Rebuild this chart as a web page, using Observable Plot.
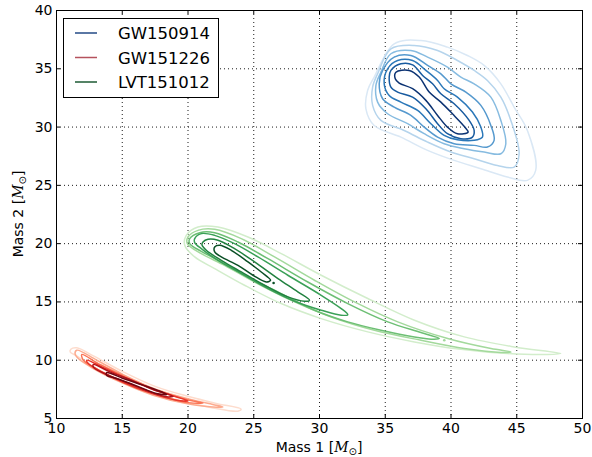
<!DOCTYPE html>
<html><head><meta charset="utf-8">
<script src="https://cdn.jsdelivr.net/npm/d3@7"></script>
<script src="https://cdn.jsdelivr.net/npm/@observablehq/plot@0.6"></script>
<style>
body{margin:0;background:#fff;}
#chart{position:relative;width:592px;height:457px;}
</style>
</head><body><div id="chart"></div>
<script>
// ---- data ----
const xTicks = [10, 15, 20, 25, 30, 35, 40, 45, 50];
const yTicks = [5, 10, 15, 20, 25, 30, 35, 40];
const seriesNames = ["GW150914", "GW151226", "LVT151012"];

// GW150914 contour levels (innermost first), [mass1, mass2]
const gw150914Levels = [
  [[35.81,34.71],[36.82,34.86],[37.58,34.29],[38.34,33.0],[39.23,32.14],[40.11,31.14],[41.05,30.0],[41.30,29.57],[40.49,29.43],[39.73,30.0],[38.98,31.0],[38.09,32.29],[37.08,33.29],[36.06,33.77],[35.76,34.14]],
  [[35.43,34.86],[36.19,35.43],[37.08,35.34],[37.84,34.43],[38.60,33.71],[39.23,32.86],[40.24,32.0],[41.38,30.57],[41.76,29.71],[41.63,29.14],[40.75,29.0],[39.73,29.43],[38.98,30.29],[38.09,31.57],[37.08,32.57],[35.94,33.0],[35.43,33.43],[35.30,34.29]],
  [[35.18,35.0],[35.94,35.71],[37.08,35.71],[38.09,34.86],[38.98,34.0],[39.48,33.29],[40.49,32.57],[41.63,31.29],[42.27,30.0],[42.39,29.14],[41.76,28.86],[40.49,28.91],[39.48,29.29],[38.47,30.29],[37.46,31.43],[36.19,32.14],[35.30,32.71],[34.92,33.71]],
  [[34.80,34.86],[35.68,36.0],[36.95,36.14],[38.22,35.29],[39.23,34.57],[39.99,33.71],[41.13,33.0],[42.27,31.86],[43.03,30.14],[43.28,28.86],[42.77,28.29],[41.76,28.43],[40.24,28.57],[38.98,29.14],[37.96,30.0],[36.95,31.0],[35.68,31.71],[34.80,32.43],[34.54,33.71]],
  [[34.67,34.71],[35.43,36.29],[36.95,36.57],[38.22,36.0],[39.73,35.14],[40.75,34.29],[41.76,33.71],[43.03,32.57],[43.79,30.57],[44.17,28.57],[43.79,27.71],[42.52,27.86],[41.00,28.14],[39.48,28.57],[37.96,29.43],[36.70,30.29],[35.18,31.14],[34.42,32.14],[34.29,33.57]],
  [[34.42,34.57],[35.43,36.71],[37.20,37.0],[38.98,36.57],[40.49,35.71],[41.76,34.86],[42.77,34.0],[43.79,32.57],[44.55,30.57],[45.18,27.71],[44.80,26.57],[43.53,26.71],[41.76,27.29],[39.99,27.86],[38.22,28.71],[36.44,29.71],[34.67,30.57],[34.04,31.86],[34.04,33.43]],
  [[34.16,34.29],[35.68,37.14],[37.71,37.43],[39.73,36.86],[41.25,36.14],[42.52,35.29],[43.79,33.71],[44.80,31.71],[45.81,29.71],[46.44,26.29],[45.81,25.43],[44.29,25.71],[42.27,26.43],[40.24,27.14],[38.22,28.0],[36.19,29.14],[34.16,30.14],[33.53,31.57],[33.66,33.14]]
];

// GW151226 contour levels (innermost first)
const gw151226Levels = [
  [[13.81,8.94],[15.08,8.43],[16.59,7.86],[18.10,7.23],[18.36,7.06],[17.60,7.14],[16.09,7.80],[14.57,8.43],[13.81,8.71]],
  [[12.80,9.63],[14.07,9.0],[15.58,8.34],[17.35,7.49],[18.86,6.91],[18.36,6.86],[17.10,7.29],[15.33,8.09],[13.81,8.77],[12.85,9.34]],
  [[12.30,10.0],[13.56,9.37],[15.08,8.57],[17.35,7.49],[19.37,6.77],[20.0,6.51],[19.12,6.57],[17.10,7.20],[15.08,8.09],[13.56,8.94],[12.42,9.71]],
  [[11.92,10.49],[13.31,9.63],[15.08,8.66],[17.60,7.43],[20.13,6.57],[21.14,6.34],[20.13,6.34],[17.60,7.06],[15.08,8.14],[13.06,9.23],[12.05,10.0]],
  [[11.54,10.86],[13.06,10.0],[15.08,8.77],[17.60,7.49],[20.13,6.66],[21.89,6.20],[22.65,6.0],[22.15,5.97],[19.87,6.29],[17.35,7.0],[14.82,8.14],[12.80,9.29],[11.66,10.14],[11.41,10.57]],
  [[11.09,10.94],[11.54,11.06],[12.80,10.37],[15.08,9.0],[17.60,7.71],[20.13,6.86],[22.15,6.29],[24.04,5.80],[23.79,5.63],[21.89,5.91],[19.87,6.43],[17.35,7.14],[14.82,8.29],[12.80,9.43],[11.54,10.37],[11.04,10.71]]
];

// LVT151012 contour levels (innermost first)
const lvt151012Levels = [
  [[22.03,19.71],[22.41,19.86],[23.29,19.43],[24.56,18.43],[25.57,17.57],[26.28,16.86],[25.95,16.71],[24.94,17.29],[23.80,18.14],[22.53,18.86],[22.03,19.29]],
  [[21.14,20.14],[21.52,20.37],[22.28,20.29],[23.54,19.57],[25.06,18.43],[26.84,17.0],[28.35,15.86],[29.24,15.14],[28.86,15.06],[27.59,15.43],[25.82,16.43],[24.05,17.57],[22.53,18.57],[21.39,19.43],[21.06,19.91]],
  [[20.51,20.43],[21.01,20.86],[22.03,20.71],[23.54,20.0],[25.32,18.86],[27.59,17.29],[30.13,15.57],[31.65,14.43],[32.15,13.91],[31.65,13.86],[30.13,14.29],[28.10,15.06],[26.08,16.14],[24.05,17.43],[22.28,18.57],[21.01,19.57],[20.51,20.09]],
  [[20.13,20.43],[20.89,20.94],[22.03,20.94],[23.80,20.14],[26.08,18.71],[29.11,16.71],[32.15,14.86],[35.19,13.29],[37.72,12.37],[39.11,11.86],[38.73,11.80],[37.22,12.0],[34.68,12.57],[32.15,13.29],[29.62,14.29],[27.09,15.71],[24.56,17.14],[22.53,18.43],[21.01,19.34],[20.13,20.0]],
  [[20.0,20.57],[20.76,21.14],[22.03,21.23],[24.05,20.43],[26.58,18.86],[29.62,16.86],[32.66,15.0],[35.95,13.29],[39.75,11.86],[43.04,11.0],[44.56,10.71],[43.80,10.66],[41.01,11.0],[37.72,11.71],[34.18,12.57],[30.89,13.71],[27.85,15.14],[25.06,16.71],[22.78,18.14],[21.01,19.14],[19.95,20.0]],
  [[19.87,20.71],[20.76,21.43],[22.28,21.43],[24.56,20.57],[27.09,19.14],[30.13,17.29],[33.67,15.29],[37.22,13.43],[41.01,12.0],[44.81,11.14],[48.35,10.57],[47.34,10.49],[44.30,10.57],[40.75,10.94],[37.22,11.57],[33.67,12.43],[30.13,13.57],[27.09,14.86],[24.30,16.43],[22.03,17.86],[20.51,18.86],[19.75,19.86]]
];
// isolated tiny blobs
const lvt151012Dots = [[26.51,16.63],[39.49,11.71]];

// ---- styles ----
const blueColors = ["#0b3272","#175a9f","#2b78b9","#5599ce","#86bbe0","#b5d4ec","#dae8f5"];
const redColors  = ["#6f0611","#b3151b","#e8362b","#fa7556","#fcab8f","#fddccd"];
const greenColors= ["#0a4f25","#21813f","#3aa057","#6dbf74","#a3d99c","#d2edcb"];
const legendColors = ["#234a86","#b5525d","#1d5a33"];

const W = 592, H = 457;
const mL = 56, mR = 10, mT = 10, mB = 39;
const innerW = W - mL - mR, innerH = H - mT - mB;

function levelMarks(levels, colors) {
  const out = [];
  for (let i = levels.length - 1; i >= 0; i--) {
    out.push(Plot.line(levels[i], {x: d => d[0], y: d => d[1], curve: "catmull-rom-closed",
      stroke: colors[i], strokeWidth: 1.5}));
  }
  return out;
}

const plot = Plot.plot({
  width: W, height: H,
  marginLeft: mL, marginRight: mR, marginTop: mT, marginBottom: mB,
  style: {fontFamily: "DejaVu Sans, sans-serif", fontSize: "14px", color: "#000", background: "#fff"},
  x: {domain: [10, 50]},
  y: {domain: [5, 40]},
  marks: [
    Plot.ruleX(xTicks.slice(1, -1), {x: d => d, stroke: "#000", strokeWidth: 0.9, strokeDasharray: "1,3"}),
    Plot.ruleY(yTicks.slice(1, -1), {y: d => d, stroke: "#000", strokeWidth: 0.9, strokeDasharray: "1,3"}),
    ...levelMarks(gw150914Levels, blueColors),
    ...levelMarks(lvt151012Levels, greenColors),
    Plot.dot(lvt151012Dots, {x: d => d[0], y: d => d[1], r: 1.3, fill: (d, i) => i === 0 ? greenColors[0] : greenColors[4], stroke: "none"}),
    ...levelMarks(gw151226Levels, redColors),
    Plot.tickX(xTicks, {x: d => d, insetTop: innerH - 4, stroke: "#000"}),
    Plot.tickX(xTicks, {x: d => d, insetBottom: innerH - 4, stroke: "#000"}),
    Plot.tickY(yTicks, {y: d => d, insetRight: innerW - 4, stroke: "#000"}),
    Plot.tickY(yTicks, {y: d => d, insetLeft: innerW - 4, stroke: "#000"}),
    Plot.frame({stroke: "#000", strokeWidth: 1}),
    Plot.axisX({ticks: xTicks, tickSize: 0, tickPadding: 5, label: null, fontSize: 14, tickFormat: d => String(d)}),
    Plot.axisY({ticks: yTicks, tickSize: 0, tickPadding: 4, label: null, fontSize: 14, tickFormat: d => String(d)})
  ]
});

document.getElementById("chart").appendChild(plot);

// axis labels with math-style M_sun
const svg = d3.select(plot);
function mathLabel(sel, prefix) {
  sel.append("tspan").text(prefix + " [");
  sel.append("tspan").attr("font-family", "DejaVu Serif, serif").attr("font-style", "italic").text("M");
  sel.append("tspan").attr("font-size", "10px").attr("dy", "3").text("⊙");
  sel.append("tspan").attr("dy", "-3").text("]");
}
const xl = svg.append("text").attr("x", mL + innerW / 2).attr("y", 452)
  .attr("text-anchor", "middle").attr("font-family", "DejaVu Sans, sans-serif").attr("font-size", "14px").attr("fill", "#000");
mathLabel(xl, "Mass 1");
const yl = svg.append("text").attr("transform", `translate(23,${mT + innerH / 2}) rotate(-90)`)
  .attr("text-anchor", "middle").attr("font-family", "DejaVu Sans, sans-serif").attr("font-size", "14px").attr("fill", "#000");
mathLabel(yl, "Mass 2");

// legend
const lg = svg.append("g");
lg.append("rect").attr("x", 63.5).attr("y", 18.5).attr("width", 155).attr("height", 79)
  .attr("fill", "#fff").attr("stroke", "#000").attr("stroke-width", 1);
seriesNames.forEach((name, i) => {
  const yy = 33 + i * 24.5;
  lg.append("line").attr("x1", 75).attr("x2", 97).attr("y1", yy).attr("y2", yy)
    .attr("stroke", legendColors[i]).attr("stroke-width", 1.5);
  lg.append("text").attr("x", 118).attr("y", yy + 6).attr("text-anchor", "start")
    .attr("font-family", "DejaVu Sans, sans-serif")
    .attr("font-size", "16.5px").attr("fill", "#000").text(name);
});
</script>
</body></html>
